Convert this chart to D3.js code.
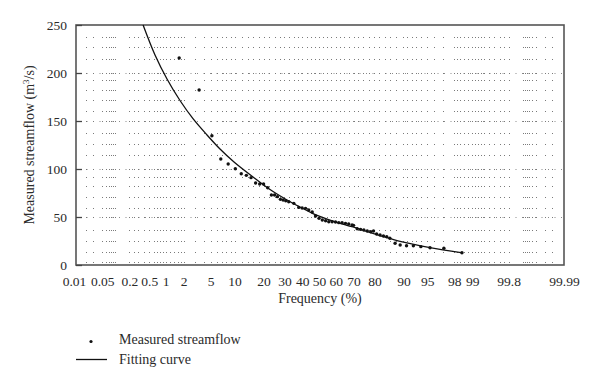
<!DOCTYPE html>
<html><head><meta charset="utf-8">
<script src="https://cdn.jsdelivr.net/npm/d3@7"></script>
<style>
body{margin:0;background:#fff}
svg{display:block}
text{font-family:"Liberation Serif","Times New Roman",serif;fill:#2a2a2a}
</style>
</head><body><svg id="c" width="600" height="389"></svg>
<script>
// ---- data ----
const freqTicks = [0.01,0.05,0.2,0.5,1,2,5,10,20,30,40,50,60,70,80,90,95,98,99,99.8,99.99];
const flowTicks = [0,50,100,150,200,250];

const measuredFreq = [1.69,3.44,5.2,6.8,8.4,10.2,11.9,13.5,15.1,16.8,18.4,20,21.8,23.5,25,26.4,27.9,29.3,30.7,32.3,35.1,37.9,39.9,41.9,43.8,45.9,47.9,50,52,54,55.9,57.9,59.9,61.8,63.7,65.6,67.4,69.2,70,71.9,73.6,75.2,76.8,78.4,79.6,80.9,82.3,83.6,84.8,85.9,87.6,89.1,90.8,92.4,93.9,95.4,97.1,98.5];
const measuredFlow = [215.6,182.3,134.7,110.4,105.2,100.3,95.1,93.4,91,85.4,84.4,84.4,80.5,72.9,72.9,71.2,68.4,67.7,67,65.9,64.2,60,59.4,59,57.3,55.2,51,48.6,46.9,46.1,45.1,45.1,44.8,44.1,44.1,43.4,42.7,41.7,41.3,37.8,37.1,36.4,35.4,34.7,35.4,32.3,31.3,30.2,29.5,27.8,22.6,20.8,20.1,20.1,19.1,18,17.4,12.8];

const curveFreq = [0.379,0.64,1.052,1.743,2.79,4.457,6.646,9.85,15.82,22.85,31.36,38.65,46.37,58.41,69.71,82.28,89.06,95.4,98.44];
const curveFlow = [250,218.75,193.75,171.35,152.4,135.4,120.8,107.3,91.7,78.6,67.7,60.4,53.6,45.8,39.6,30.7,24.5,18,12.8];

// probability-paper grid
const gridFreqLeft = [0.02,0.03,0.05,0.06,0.07,0.08,0.09,0.1,0.2,0.25,0.3,0.4,0.5,0.6,0.7,0.8,0.9,1,1.2,1.4,1.6,1.8,2,3,4,5,6,7,8,9,10,12,14,16,18,20];
const gridFreqMid = [22.5,25,27.5,30,32.5,35,37.5,40,42.5,45,47.5,50,52.5,55,57.5,60,62.5,65,67.5,70,72.5,75,77.5];
const gridRowsMinor = [3.5,14,25,36.5,59,71,82,92,115,126,137,160,172,182,193,215,227,238];
const gridRowsMajor = [50,100,150,200];

// ---- helpers ----
function qnorm(p){
  const a=[-3.969683028665376e+01,2.209460984245205e+02,-2.759285104469687e+02,1.383577518672690e+02,-3.066479806614716e+01,2.506628277459239e+00];
  const b=[-5.447609879822406e+01,1.615858368580409e+02,-1.556989798598866e+02,6.680131188771972e+01,-1.328068155288572e+01];
  const c=[-7.784894002430293e-03,-3.223964580411365e-01,-2.400758277161838e+00,-2.549732539343734e+00,4.374664141464968e+00,2.938163982698783e+00];
  const d=[7.784695709041462e-03,3.224671290700398e-01,2.445134137142996e+00,3.754408661907416e+00];
  const pl=0.02425, ph=1-pl; let q,r;
  if(p<pl){q=Math.sqrt(-2*Math.log(p));return (((((c[0]*q+c[1])*q+c[2])*q+c[3])*q+c[4])*q+c[5])/((((d[0]*q+d[1])*q+d[2])*q+d[3])*q+1);}
  if(p<=ph){q=p-0.5;r=q*q;return (((((a[0]*r+a[1])*r+a[2])*r+a[3])*r+a[4])*r+a[5])*q/(((((b[0]*r+b[1])*r+b[2])*r+b[3])*r+b[4])*r+1);}
  q=Math.sqrt(-2*Math.log(1-p));return -(((((c[0]*q+c[1])*q+c[2])*q+c[3])*q+c[4])*q+c[5])/((((d[0]*q+d[1])*q+d[2])*q+d[3])*q+1);
}

const svg = d3.select("#c");
const L=76, R=564, T=25, B=265;
const xz = d3.scaleLinear().domain([qnorm(0.0001), qnorm(0.9999)]).range([74, 564]);
const x = f => xz(qnorm(f/100));
const y = d3.scaleLinear().domain([0,250]).range([B,T]);

// ---- grid ----
const gridCols = gridFreqLeft.concat(gridFreqMid, gridFreqLeft.map(f=>+(100-f).toFixed(3)).reverse());
const g = svg.append("g");
gridRowsMajor.forEach(v=>{
  g.append("line").attr("x1",L+4).attr("x2",R-2).attr("y1",Math.round(y(v))+0.5).attr("y2",Math.round(y(v))+0.5)
   .attr("stroke","#8a8a8a").attr("stroke-width",1).attr("stroke-dasharray","1,5.5");
});
gridRowsMinor.concat(gridRowsMajor).forEach(v=>{
  gridCols.forEach(f=>{
    g.append("rect").attr("x",Math.round(x(f))).attr("y",Math.round(y(v))).attr("width",1).attr("height",1).attr("fill","#7a7a7a");
  });
});

// ---- frame ----
svg.append("rect").attr("x",L).attr("y",T).attr("width",R-L).attr("height",B-T)
  .attr("fill","none").attr("stroke","#555").attr("stroke-width",1.6);

// ---- axes ----
const ya = svg.append("g").attr("transform",`translate(${L},0)`)
  .call(d3.axisLeft(y).tickValues(flowTicks).tickSizeInner(-6).tickSizeOuter(0).tickPadding(9));
ya.select(".domain").remove();
ya.selectAll("line").attr("stroke","#444").attr("stroke-width",1.3);
ya.selectAll("text").attr("font-size",13.5).style("font-family",'"Liberation Serif",serif').attr("fill","#2a2a2a");

const xa = svg.append("g").attr("transform",`translate(0,${B})`)
  .call(d3.axisBottom(xz).tickValues(freqTicks.map(f=>qnorm(f/100))).tickSize(0).tickPadding(11)
    .tickFormat((d,i)=>String(freqTicks[i])));
xa.select(".domain").remove();
xa.selectAll("text").attr("font-size",13.5).style("font-family",'"Liberation Serif",serif').attr("fill","#2a2a2a");

// axis titles
svg.append("text").attr("x",320).attr("y",303).attr("text-anchor","middle").attr("font-size",14).text("Frequency (%)");
const yl = svg.append("text").attr("transform","translate(34,145) rotate(-90)").attr("text-anchor","middle").attr("font-size",14);
yl.append("tspan").text("Measured streamflow (m");
yl.append("tspan").attr("font-size",9).attr("dy",-5).text("3");
yl.append("tspan").attr("dy",5).text("/s)");

// ---- fitted curve ----
svg.append("clipPath").attr("id","clip").append("rect").attr("x",L).attr("y",T-1).attr("width",R-L).attr("height",B-T+1);
const curveData = curveFreq.map((f,i)=>[x(f), y(curveFlow[i])]);
svg.append("path").attr("clip-path","url(#clip)")
  .attr("d", d3.line().curve(d3.curveCatmullRom.alpha(0.5))(curveData))
  .attr("fill","none").attr("stroke","#111").attr("stroke-width",1.3);

// ---- measured points ----
svg.append("g").selectAll("circle").data(measuredFreq).join("circle")
  .attr("cx",(f)=>x(f)).attr("cy",(f,i)=>y(measuredFlow[i])).attr("r",1.7).attr("fill","#111");

// ---- legend ----
const lg = svg.append("g");
lg.append("circle").attr("cx",91).attr("cy",341.5).attr("r",1.6).attr("fill","#111");
lg.append("text").attr("x",119).attr("y",343.5).attr("font-size",14).text("Measured streamflow");
lg.append("line").attr("x1",76).attr("x2",107).attr("y1",359.5).attr("y2",359.5).attr("stroke","#111").attr("stroke-width",1.3);
lg.append("text").attr("x",119).attr("y",363.5).attr("font-size",14).text("Fitting curve");
</script>
</body></html>
